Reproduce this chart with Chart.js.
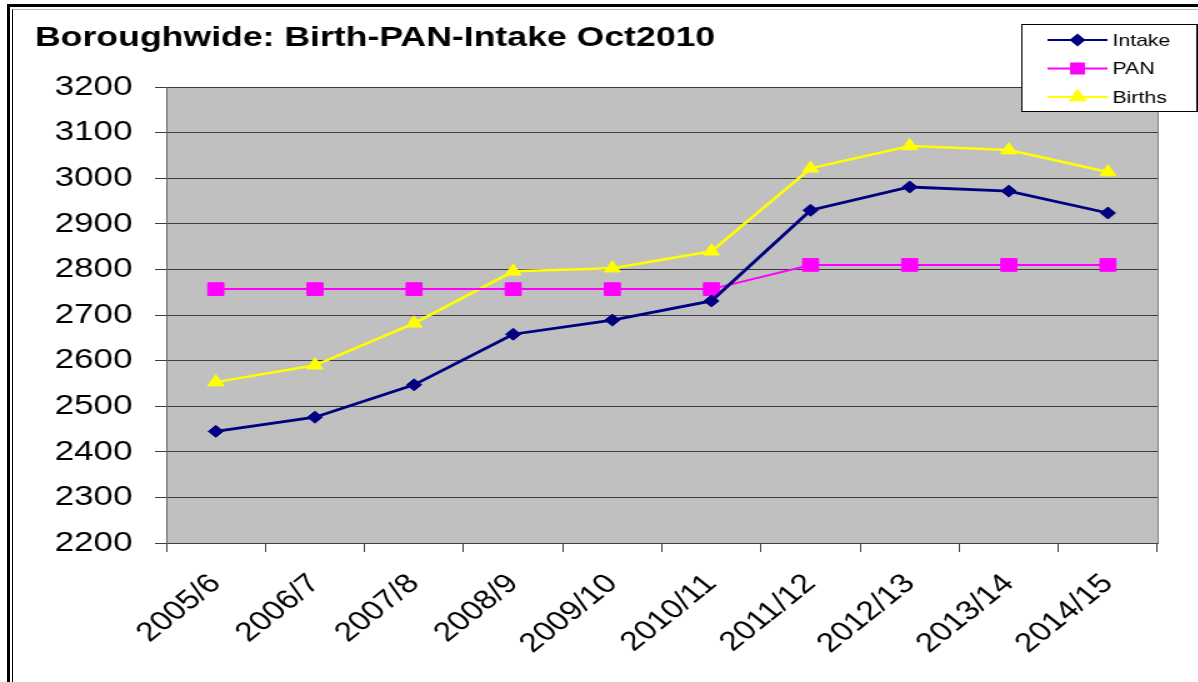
<!DOCTYPE html>
<html>
<head>
<meta charset="utf-8">
<script src="https://cdn.jsdelivr.net/npm/chart.js@4.4.0/dist/chart.umd.min.js"></script>
<style>
html, body { margin: 0; padding: 0; background: #fff; }
body { width: 1198px; height: 682px; position: relative; overflow: hidden; }
#frameOuter { position: absolute; left: 7px; top: 4px; right: -10px; bottom: -10px; border-top: 3px solid #000; border-left: 3px solid #000; }
#frameInner { position: absolute; left: 12px; top: 9px; right: -10px; bottom: -10px; border-top: 1px solid #bbb; border-left: 1px solid #000; }
/* the source picture is stretched sideways, so the chart is drawn narrower and scaled */
#wrap { position: absolute; left: 0; top: 0; width: 958px; height: 682px; transform: scaleX(1.25); transform-origin: 0 0; }
</style>
</head>
<body>
<div id="frameOuter"></div>
<div id="frameInner"></div>
<div id="wrap"><canvas id="chart"></canvas></div>
<script>
const categories = ['2005/6', '2006/7', '2007/8', '2008/9', '2009/10', '2010/11', '2011/12', '2012/13', '2013/14', '2014/15'];
const intake = [2445, 2476, 2547, 2658, 2689, 2731, 2930, 2981, 2972, 2924];
const pan = [2757, 2757, 2757, 2757, 2757, 2757, 2810, 2810, 2810, 2810];
const births = [2553, 2590, 2682, 2796, 2803, 2840, 3022, 3071, 3062, 3014];
const yMin = 2200, yMax = 3200, yStep = 100;

const FONT = "'Liberation Sans', Arial, sans-serif";
Chart.defaults.font.family = FONT;

// gray plot area like the Excel original
const plotBackground = {
    id: 'plotBackground',
    beforeDraw(chart) {
        const { ctx, chartArea: a } = chart;
        ctx.save();
        ctx.fillStyle = '#c0c0c0';
        ctx.fillRect(a.left, a.top, a.right - a.left, a.bottom - a.top);
        ctx.strokeStyle = '#808080';
        ctx.lineWidth = 1;
        ctx.beginPath();
        ctx.moveTo(a.right + 0.5, a.top);
        ctx.lineTo(a.right + 0.5, a.bottom);
        ctx.stroke();
        ctx.restore();
    }
};

// boxed legend in the top right corner
const boxLegend = {
    id: 'boxLegend',
    afterDraw(chart, args, opts) {
        const { ctx } = chart;
        const x = opts.x, y = opts.y, w = opts.width, h = opts.height;
        ctx.save();
        ctx.fillStyle = '#fff';
        ctx.fillRect(x, y, w, h);
        ctx.strokeStyle = '#000';
        ctx.lineWidth = 1;
        ctx.strokeRect(x + 0.5, y + 0.5, w - 1, h - 1);
        chart.data.datasets.forEach((ds, i) => {
            const cy = y + opts.rowStart + i * opts.rowGap;
            ctx.strokeStyle = ds.borderColor;
            ctx.lineWidth = 2;
            ctx.beginPath();
            ctx.moveTo(x + 21, cy);
            ctx.lineTo(x + 69, cy);
            ctx.stroke();
            ctx.fillStyle = ds.backgroundColor;
            ctx.strokeStyle = ds.borderColor;
            Chart.helpers.drawPoint(ctx, { pointStyle: ds.pointStyle, radius: opts.radius[i], borderWidth: 1 }, x + 45, cy);
            ctx.fillStyle = '#000';
            ctx.font = '17px ' + FONT;
            ctx.textBaseline = 'middle';
            ctx.textAlign = 'left';
            ctx.fillText(ds.label, x + 73, cy + 1);
        });
        ctx.restore();
    }
};

new Chart(document.getElementById('chart'), {
    type: 'line',
    data: {
        labels: categories,
        datasets: [
            { label: 'Intake', data: intake, borderColor: '#000080', backgroundColor: '#000080', borderWidth: 2.8, pointStyle: 'rectRot', pointRadius: 6, pointBorderWidth: 1 },
            { label: 'PAN', data: pan, borderColor: '#ff00ff', backgroundColor: '#ff00ff', borderWidth: 2, pointStyle: 'rect', pointRadius: 9, pointBorderWidth: 1 },
            { label: 'Births', data: births, borderColor: '#ffff00', backgroundColor: '#ffff00', borderWidth: 2.5, pointStyle: 'triangle', pointRadius: 7.5, pointBorderWidth: 1 }
        ]
    },
    options: {
        responsive: true,
        maintainAspectRatio: false,
        animation: false,
        layout: { padding: { top: 21, left: 28, right: 32, bottom: 0 } },
        plugins: {
            legend: { display: false },
            tooltip: { enabled: false },
            title: {
                display: true, text: 'Boroughwide: Birth-PAN-Intake Oct2010', align: 'start', color: '#000',
                font: { size: 28.5, weight: 'bold' }, padding: { top: 0, bottom: 32 }
            },
            boxLegend: { x: 817, y: 24, width: 141, height: 88, rowStart: 16, rowGap: 28.5, radius: [5, 7, 6.5] }
        },
        scales: {
            x: {
                offset: true,
                grid: { offset: true, drawOnChartArea: false, drawTicks: true, tickLength: 9, color: '#404040' },
                border: { color: '#404040' },
                ticks: { color: '#000', font: { size: 27 }, maxRotation: 45, minRotation: 45, autoSkip: false, padding: 16 },
                afterFit(scale) { scale.height = 139; }
            },
            y: {
                min: yMin, max: yMax,
                grid: { color: '#3c3c3c', tickLength: 9, drawTicks: true },
                border: { color: '#606060' },
                ticks: { stepSize: yStep, color: '#000', font: { size: 28 }, padding: 18, callback: v => String(v) },
                afterFit(scale) { scale.width = 105; }
            }
        }
    },
    plugins: [plotBackground, boxLegend]
});
</script>
</body>
</html>
